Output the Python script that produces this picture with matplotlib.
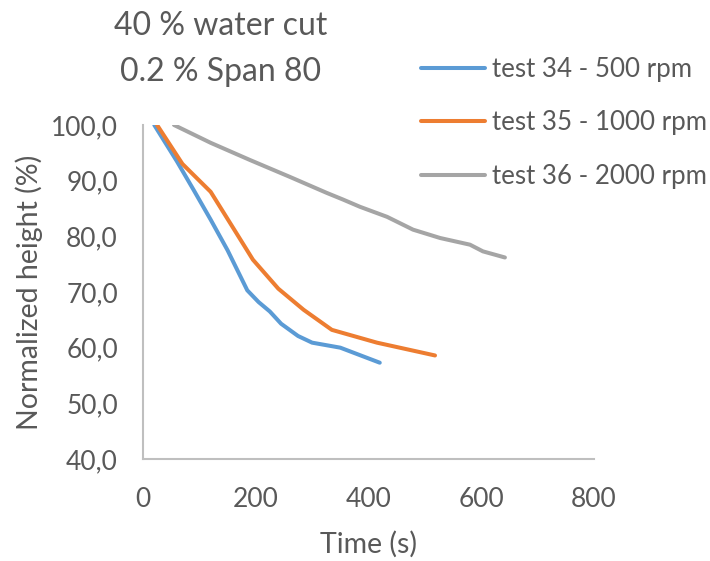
import matplotlib
matplotlib.use("Agg")
import matplotlib.pyplot as plt

plt.rcParams['font.family'] = ['Lato', 'DejaVu Sans']

# time (s) and normalized height (%) for each run
t_34 = [20, 60, 90, 120, 150, 185, 205, 225, 245, 275, 300, 350, 420]
h_34 = [100, 93.5, 88.3, 83, 77.5, 70.3, 68.2, 66.5, 64.3, 62.1, 60.9, 60.0, 57.3]

t_35 = [25, 70, 120, 160, 195, 240, 285, 335, 415, 518]
h_35 = [100, 93, 88, 81.5, 75.8, 70.6, 66.8, 63.2, 60.9, 58.6]

t_36 = [55, 120, 190, 260, 326, 355, 385, 433, 479, 527, 580, 603, 642]
h_36 = [100, 96.8, 93.7, 90.7, 87.8, 86.6, 85.3, 83.5, 81.2, 79.7, 78.5, 77.3, 76.2]

labels = ["test 34 - 500 rpm", "test 35 - 1000 rpm", "test 36 - 2000 rpm"]
xticks = [0, 200, 400, 600, 800]
yticks = [40, 50, 60, 70, 80, 90, 100]

txt = "#595959"
fig = plt.figure(figsize=(7.1, 5.61), dpi=100)
ax = fig.add_axes([0.2014, 0.1818, 0.6352, 0.5954])

lw = 2.9
ax.plot(t_34, h_34, color="#5B9BD5", lw=lw, solid_capstyle="round", label=labels[0])
ax.plot(t_35, h_35, color="#ED7D31", lw=lw, solid_capstyle="round", label=labels[1])
ax.plot(t_36, h_36, color="#A5A5A5", lw=lw, solid_capstyle="round", label=labels[2])

ax.set_xlim(0, 800)
ax.set_ylim(40, 100)
ax.set_xticks(xticks)
ax.set_yticks(yticks)
ax.set_yticklabels([f"{v:.1f}".replace(".", ",") for v in yticks])
ax.tick_params(length=0, labelsize=19, colors=txt)
ax.tick_params(axis="x", pad=20)
ax.tick_params(axis="y", pad=18)
for s in ["top", "right"]:
    ax.spines[s].set_visible(False)
for s in ["left", "bottom"]:
    ax.spines[s].set_color("#BFBFBF")
    ax.spines[s].set_linewidth(1.5)

ax.set_xlabel("Time (s)", fontsize=20.5, color=txt, labelpad=14)
ax.set_ylabel("Normalized height (%)", fontsize=20.5, color=txt, labelpad=6)

fig.text(0.311, 0.954, "40 % water cut", ha="center", va="center", fontsize=23, color=txt)
fig.text(0.311, 0.872, "0.2 % Span 80", ha="center", va="center", fontsize=23, color=txt)

leg = fig.legend(loc="upper left", bbox_to_anchor=(0.579, 0.917), frameon=False,
                 fontsize=18.6, handlelength=2.45, handletextpad=0.27,
                 labelspacing=1.1, borderaxespad=0)
for t in leg.get_texts():
    t.set_color(txt)
for l in leg.get_lines():
    l.set_linewidth(lw)

fig.savefig("out.png", dpi=100)
